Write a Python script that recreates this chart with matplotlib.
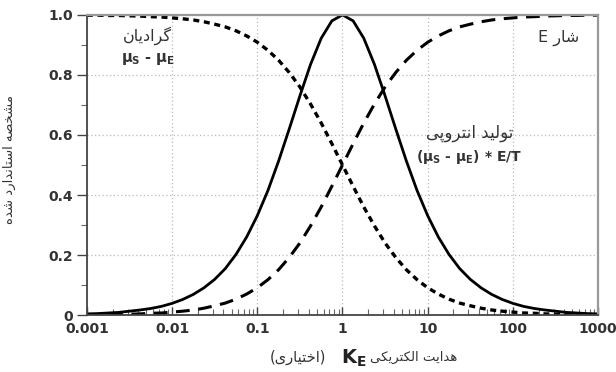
import numpy as np
import matplotlib
matplotlib.use("Agg")
from matplotlib import pyplot as plt
from matplotlib.ticker import FixedLocator, MultipleLocator, NullFormatter

plt.rcParams['font.family'] = ['DejaVu Sans']
plt.rcParams['mathtext.default'] = 'regular'

# k_E, eighth-decade steps from 0.001 to 1000
k_e = [10 ** (-3 + i / 8) for i in range(49)]

# normalised flux E (dashed)
flux = [0.001, 0.001, 0.002, 0.002, 0.003, 0.004, 0.006, 0.007, 0.010, 0.013,
        0.017, 0.023, 0.031, 0.040, 0.053, 0.070, 0.091, 0.118, 0.151, 0.192,
        0.240, 0.297, 0.360, 0.429, 0.500, 0.571, 0.640, 0.703, 0.760, 0.808,
        0.849, 0.882, 0.909, 0.930, 0.947, 0.960, 0.969, 0.977, 0.983, 0.987,
        0.990, 0.993, 0.994, 0.996, 0.997, 0.998, 0.998, 0.999, 0.999]

# normalised gradient mu_S - mu_E (dotted)
gradient = [0.999, 0.999, 0.998, 0.998, 0.997, 0.996, 0.994, 0.993, 0.990, 0.987,
            0.983, 0.977, 0.969, 0.960, 0.947, 0.930, 0.909, 0.882, 0.849, 0.808,
            0.760, 0.703, 0.640, 0.571, 0.500, 0.429, 0.360, 0.297, 0.240, 0.192,
            0.151, 0.118, 0.091, 0.070, 0.053, 0.040, 0.031, 0.023, 0.017, 0.013,
            0.010, 0.007, 0.006, 0.004, 0.003, 0.002, 0.002, 0.001, 0.001]

# normalised entropy production (solid)
entropy = [0.004, 0.005, 0.007, 0.009, 0.013, 0.017, 0.022, 0.029, 0.039, 0.052,
           0.069, 0.091, 0.119, 0.155, 0.202, 0.260, 0.331, 0.415, 0.513, 0.620,
           0.730, 0.835, 0.922, 0.980, 1.000, 0.980, 0.922, 0.835, 0.730, 0.620,
           0.513, 0.415, 0.331, 0.260, 0.202, 0.155, 0.119, 0.091, 0.069, 0.052,
           0.039, 0.029, 0.022, 0.017, 0.013, 0.009, 0.007, 0.005, 0.004]

x_ticks = [0.001, 0.01, 0.1, 1, 10, 100, 1000]
x_tick_labels = ["0.001", "0.01", "0.1", "1", "10", "100", "1000"]
y_ticks = [0, 0.2, 0.4, 0.6, 0.8, 1.0]
y_tick_labels = ["0", "0.2", "0.4", "0.6", "0.8", "1.0"]

# Persian letters -> presentation forms (isolated, final, initial, medial)
FORMS = {
    'ا': (0xFE8D, 0xFE8E, None, None),
    'د': (0xFEA9, 0xFEAA, None, None),
    'ر': (0xFEAD, 0xFEAE, None, None),
    'و': (0xFEED, 0xFEEE, None, None),
    'ت': (0xFE95, 0xFE96, 0xFE97, 0xFE98),
    'ن': (0xFEE5, 0xFEE6, 0xFEE7, 0xFEE8),
    'ش': (0xFEB5, 0xFEB6, 0xFEB7, 0xFEB8),
    'س': (0xFEB1, 0xFEB2, 0xFEB3, 0xFEB4),
    'ص': (0xFEB9, 0xFEBA, 0xFEBB, 0xFEBC),
    'ل': (0xFEDD, 0xFEDE, 0xFEDF, 0xFEE0),
    'م': (0xFEE1, 0xFEE2, 0xFEE3, 0xFEE4),
    'ه': (0xFEE9, 0xFEEA, 0xFEEB, 0xFEEC),
    'خ': (0xFEA5, 0xFEA6, 0xFEA7, 0xFEA8),
    'ی': (0xFBFC, 0xFBFD, 0xFBFE, 0xFBFF),
    'ک': (0xFB8E, 0xFB8F, 0xFB90, 0xFB91),
    'گ': (0xFB92, 0xFB93, 0xFB94, 0xFB95),
    'پ': (0xFB56, 0xFB57, 0xFB58, 0xFB59),
}


def fa(s):
    out = []
    for i, ch in enumerate(s):
        if ch not in FORMS:
            out.append(ch)
            continue
        prev = s[i - 1] if i > 0 else ''
        nxt = s[i + 1] if i + 1 < len(s) else ''
        jp = prev in FORMS and FORMS[prev][2] is not None
        jn = nxt in FORMS and FORMS[ch][2] is not None
        iso, fin, ini, med = FORMS[ch]
        if jp and jn:
            c = med
        elif jp:
            c = fin
        elif jn:
            c = ini
        else:
            c = iso
        out.append(chr(c))
    return ''.join(out)[::-1]


fig = plt.figure(dpi=100, figsize=(6.16, 3.72))
ax = fig.add_axes([0.141, 0.153, 0.830, 0.807])

ax.plot(k_e, entropy, c="black", lw=2.0, solid_capstyle="butt")
ax.plot(k_e, flux, c="black", lw=2.2, dashes=(4.5, 2.8))
ax.plot(k_e, gradient, c="black", lw=2.4, dashes=(1.8, 1.4))

ax.set_xscale("log")
ax.set_xlim(0.001, 1000)
ax.set_ylim(0, 1.0)
ax.xaxis.set_major_locator(FixedLocator(x_ticks))
ax.set_xticklabels(x_tick_labels)
ax.xaxis.set_minor_locator(FixedLocator(
    [m * 10.0 ** e for e in range(-3, 3) for m in range(2, 10)]))
ax.xaxis.set_minor_formatter(NullFormatter())
ax.set_yticks(y_ticks)
ax.set_yticklabels(y_tick_labels)
ax.yaxis.set_minor_locator(MultipleLocator(0.1))

ax.grid(True, which="major", ls=(0, (1, 2)), c="#bbbbbb", lw=0.9)
ax.tick_params(axis="x", which="major", direction="in", length=6, width=1,
               labelsize=10, pad=5, colors="#444444", labelcolor="#333333")
ax.tick_params(axis="x", which="minor", direction="in", length=4, width=0.8,
               colors="#666666")
ax.tick_params(axis="y", which="major", direction="out", length=7, width=1,
               labelsize=10, pad=3, colors="#444444", labelcolor="#333333")
ax.tick_params(axis="y", which="minor", direction="out", length=4, width=0.8,
               colors="#666666")
for lab in ax.get_xticklabels() + ax.get_yticklabels():
    lab.set_fontweight("bold")

for side in ["left", "bottom"]:
    ax.spines[side].set_color("#444444")
    ax.spines[side].set_linewidth(1.3)
for side in ["top", "right"]:
    ax.spines[side].set_color("#999999")
    ax.spines[side].set_linewidth(1.6)

txt = dict(ha="center", va="center", color="#333333")
ax.text(0.0052, 0.932, fa("گرادیان"), fontsize=11.5, **txt)
ax.text(0.0052, 0.852, "μ$_S$ - μ$_E$", fontweight="bold", fontsize=10.5, **txt)
ax.text(340, 0.922, "E " + fa("شار"), fontsize=11.5, **txt)
ax.text(31, 0.605, fa("تولید انتروپی"), fontsize=12, **txt)
ax.text(31, 0.527, "(μ$_S$ - μ$_E$) * E/T", fontweight="bold", fontsize=10, **txt)

fig.text(0.015, 0.57, fa("مشخصه استاندارد شده"), rotation=90,
         ha="center", va="center", fontsize=9.5, color="#333333")
fig.text(0.529, 0.038, "(" + fa("اختیاری") + ")", ha="right", va="center",
         fontsize=10.5, color="#333333")
fig.text(0.575, 0.038, "K$_E$", ha="center", va="center", fontsize=14,
         fontweight="bold", color="#222222")
fig.text(0.600, 0.038, fa("هدایت الکتریکی"), ha="left", va="center",
         fontsize=9.5, color="#333333")

fig.savefig("out.png")
